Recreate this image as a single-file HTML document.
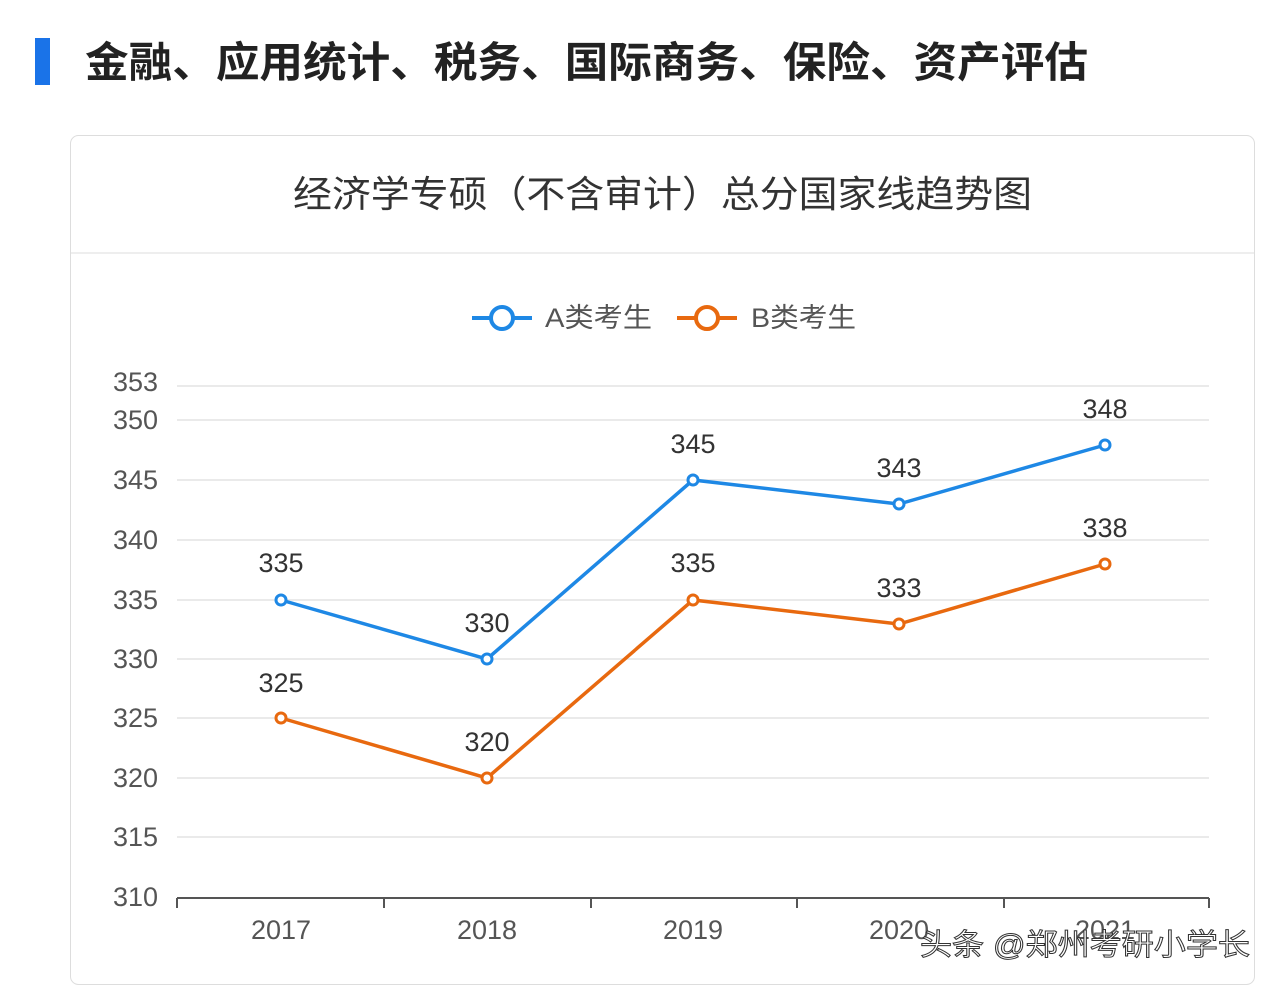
<!DOCTYPE html>
<html><head><meta charset="utf-8"><style>
body{margin:0;width:1280px;height:990px;background:#fff;overflow:hidden;font-family:"Liberation Sans","Noto Sans CJK SC",sans-serif;}
</style></head><body>
<svg width="1280" height="990" xmlns="http://www.w3.org/2000/svg" style="position:absolute;left:0;top:0">
<rect x="35" y="38" width="15" height="47" fill="#1a73e8"/>
<text x="85" y="77" font-size="42" font-weight="bold" fill="#222" textLength="1003" lengthAdjust="spacingAndGlyphs" font-family="Liberation Sans,Noto Sans CJK SC,sans-serif">金融、应用统计、税务、国际商务、保险、资产评估</text>
<rect x="70.5" y="135.5" width="1184" height="849" rx="8" fill="#fff" stroke="#ddd"/>
<line x1="71" y1="253" x2="1254" y2="253" stroke="#ddd"/>
<text x="293" y="207" font-size="37" fill="#333" textLength="739" lengthAdjust="spacingAndGlyphs" font-family="Liberation Sans,Noto Sans CJK SC,sans-serif">经济学专硕（不含审计）总分国家线趋势图</text>
<g font-family="Liberation Sans,Noto Sans CJK SC,sans-serif" font-size="27" fill="#555">
<line x1="472" y1="318" x2="532" y2="318" stroke="#1e88e5" stroke-width="4"/><circle cx="502" cy="318" r="11" fill="#fff" stroke="#1e88e5" stroke-width="4"/>
<text x="545" y="327" textLength="107" lengthAdjust="spacingAndGlyphs">A类考生</text>
<line x1="677" y1="318" x2="737" y2="318" stroke="#e8690f" stroke-width="4"/><circle cx="707" cy="318" r="11" fill="#fff" stroke="#e8690f" stroke-width="4"/>
<text x="751" y="327" textLength="105" lengthAdjust="spacingAndGlyphs">B类考生</text>
</g>
<g stroke="#e3e3e3" stroke-width="1.5">
<line x1="177" y1="386" x2="1209" y2="386"/><line x1="177" y1="420" x2="1209" y2="420"/>
<line x1="177" y1="480" x2="1209" y2="480"/><line x1="177" y1="540" x2="1209" y2="540"/>
<line x1="177" y1="600" x2="1209" y2="600"/><line x1="177" y1="659" x2="1209" y2="659"/>
<line x1="177" y1="718" x2="1209" y2="718"/><line x1="177" y1="778" x2="1209" y2="778"/>
<line x1="177" y1="837" x2="1209" y2="837"/>
</g>
<g stroke="#555" stroke-width="2">
<line x1="177" y1="898" x2="1209" y2="898"/>
<line x1="177" y1="898" x2="177" y2="908"/><line x1="384" y1="898" x2="384" y2="908"/>
<line x1="591" y1="898" x2="591" y2="908"/><line x1="797" y1="898" x2="797" y2="908"/>
<line x1="1004" y1="898" x2="1004" y2="908"/><line x1="1209" y1="898" x2="1209" y2="908"/>
</g>
<g font-family="Liberation Sans,sans-serif" font-size="27" fill="#555" text-anchor="end">
<text x="158" y="391">353</text><text x="158" y="429">350</text><text x="158" y="489">345</text>
<text x="158" y="549">340</text><text x="158" y="609">335</text><text x="158" y="668">330</text>
<text x="158" y="727">325</text><text x="158" y="787">320</text><text x="158" y="846">315</text>
<text x="158" y="906">310</text>
</g>
<g font-family="Liberation Sans,sans-serif" font-size="27" fill="#555" text-anchor="middle">
<text x="281" y="939">2017</text><text x="487" y="939">2018</text><text x="693" y="939">2019</text>
<text x="899" y="939">2020</text><text x="1105" y="939">2021</text>
</g>
<polyline points="281,600 487,659 693,480 899,504 1105,445" fill="none" stroke="#1e88e5" stroke-width="3.5"/>
<polyline points="281,718 487,778 693,600 899,624 1105,564" fill="none" stroke="#e8690f" stroke-width="3.5"/>
<g fill="#fff" stroke="#1e88e5" stroke-width="3">
<circle cx="281" cy="600" r="5"/><circle cx="487" cy="659" r="5"/><circle cx="693" cy="480" r="5"/><circle cx="899" cy="504" r="5"/><circle cx="1105" cy="445" r="5"/>
</g>
<g fill="#fff" stroke="#e8690f" stroke-width="3">
<circle cx="281" cy="718" r="5"/><circle cx="487" cy="778" r="5"/><circle cx="693" cy="600" r="5"/><circle cx="899" cy="624" r="5"/><circle cx="1105" cy="564" r="5"/>
</g>
<g font-family="Liberation Sans,sans-serif" font-size="27" fill="#333" text-anchor="middle">
<text x="281" y="572">335</text><text x="487" y="632">330</text><text x="693" y="453">345</text><text x="899" y="477">343</text><text x="1105" y="418">348</text>
<text x="281" y="692">325</text><text x="487" y="751">320</text><text x="693" y="572">335</text><text x="899" y="597">333</text><text x="1105" y="537">338</text>
</g>
<text x="920" y="955" font-size="30" fill="#fff" stroke="#333" stroke-width="1" textLength="330" lengthAdjust="spacingAndGlyphs" font-family="Liberation Sans,Noto Sans CJK SC,sans-serif">头条 @郑州考研小学长</text>
</svg>
</body></html>
